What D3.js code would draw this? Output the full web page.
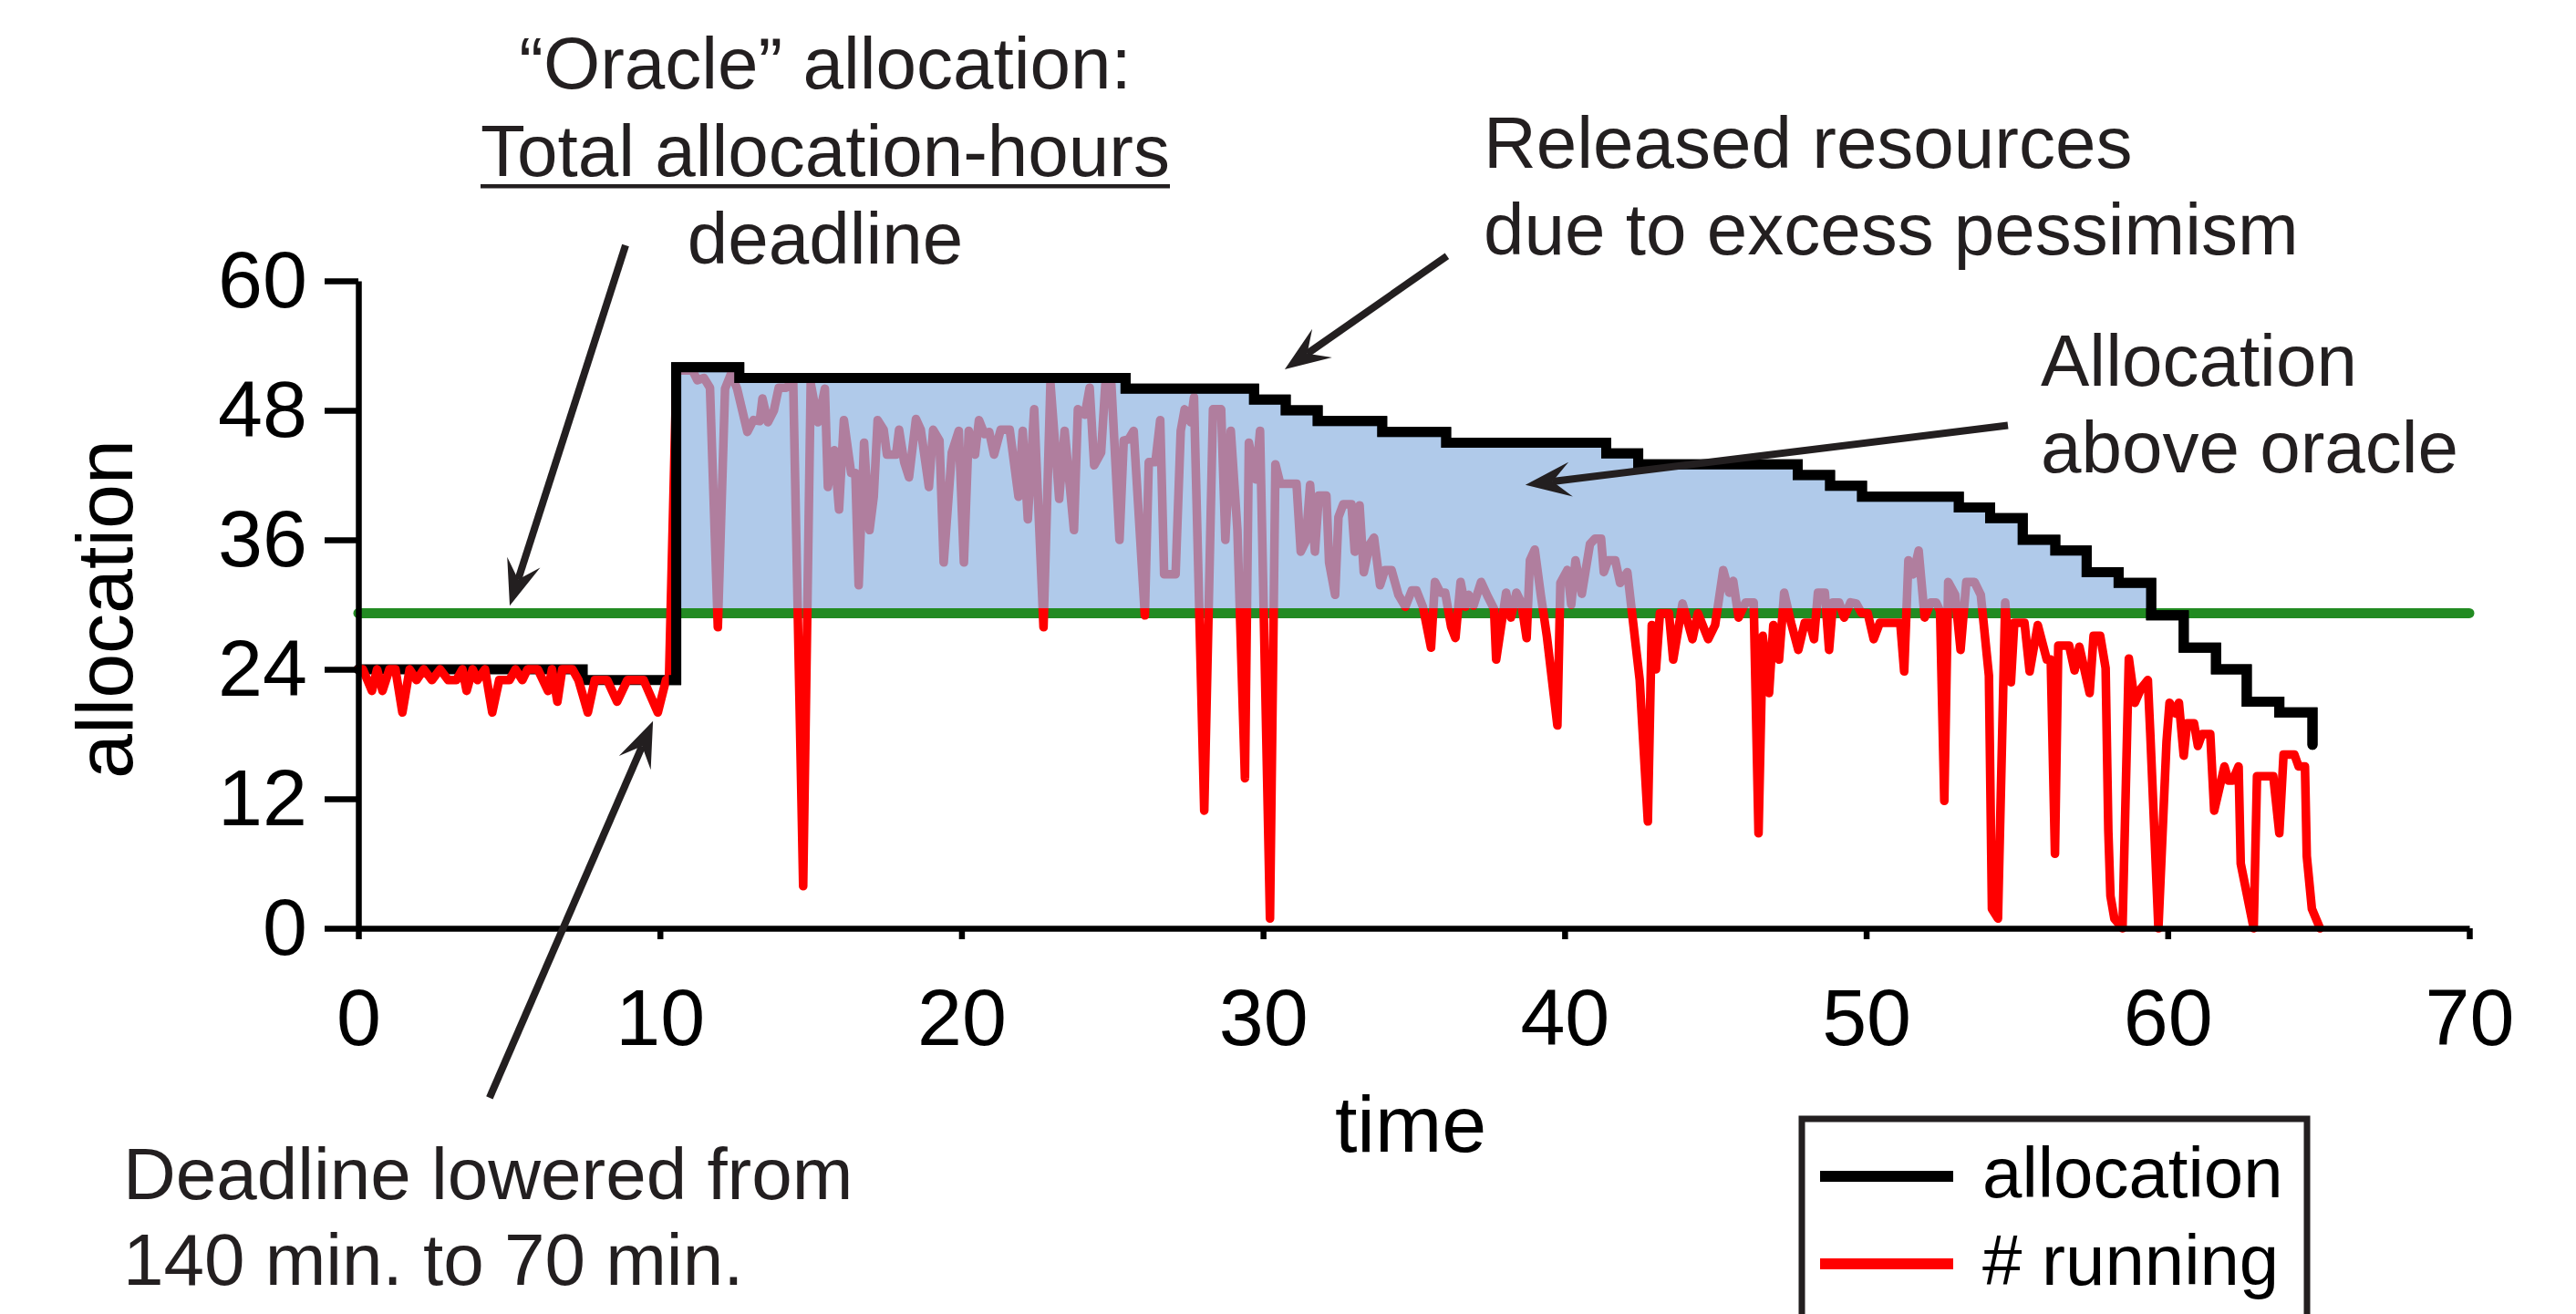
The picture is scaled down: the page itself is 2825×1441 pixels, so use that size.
<!DOCTYPE html>
<html>
<head>
<meta charset="utf-8">
<script src="https://d3js.org/d3.v7.min.js"></script>
<style>
  html, body { margin: 0; padding: 0; background: #fff; }
  svg { display: block; font-family: "Liberation Sans", Arial, Helvetica, sans-serif; }
</style>
</head>
<body>
<svg id="chart" width="2825" height="1441"></svg>
<script>
// allocation (step function)
const allocTime = [0, 7.44, 10.54, 12.63, 25.44, 29.7, 30.75, 31.81, 33.95, 36.07, 41.38, 42.44, 47.73, 48.8, 49.86,
	53.07, 54.11, 55.19, 56.27, 57.31, 58.37, 59.45, 60.53, 61.6, 62.62, 63.7, 64.8];
const allocValue = [24, 23, 52, 51, 50, 49, 48, 47, 46, 45, 44, 43, 42, 41, 40,
	39, 38, 36, 35, 33, 32, 29, 26, 24, 21, 20, 17];

// number of running tasks
const runTime = [
	0, 0.15, 0.45, 0.62, 0.8, 1.03, 1.23, 1.46, 1.7, 1.93, 2.17, 2.44, 2.71, 2.98, 3.25, 3.45, 3.59, 3.79, 3.95, 4.2,
	4.44, 4.67, 5.01, 5.21, 5.44, 5.61, 5.95, 6.29, 6.42, 6.6, 6.76, 7.1, 7.3, 7.61, 7.84, 8.25, 8.58, 8.92, 9.46, 9.93,
	10.2, 10.3, 10.55, 10.81, 11.08, 11.24, 11.46, 11.66, 11.92, 12.16, 12.36, 12.56, 12.9, 13.1, 13.31, 13.4, 13.58, 13.78, 13.94, 14.18,
	14.42, 14.75, 15.0, 15.24, 15.47, 15.57, 15.78, 15.94, 16.1, 16.34, 16.48, 16.59, 16.77, 16.95, 17.09, 17.22, 17.42, 17.53, 17.83, 17.93,
	18.1, 18.26, 18.49, 18.65, 18.92, 19.06, 19.27, 19.41, 19.68, 19.91, 20.08, 20.24, 20.45, 20.58, 20.76, 20.92, 21.08, 21.3, 21.6, 21.89,
	22.03, 22.2, 22.41, 22.72, 22.95, 23.24, 23.42, 23.73, 23.86, 24.09, 24.25, 24.4, 24.63, 24.77, 24.97, 25.24, 25.38, 25.54, 25.71, 26.08,
	26.21, 26.43, 26.59, 26.72, 27.1, 27.27, 27.4, 27.6, 27.71, 28.05, 28.34, 28.61, 28.75, 28.93, 29.15, 29.4, 29.53, 29.76, 29.9, 30.23,
	30.41, 30.57, 31.11, 31.25, 31.42, 31.56, 31.72, 31.85, 32.1, 32.19, 32.39, 32.5, 32.66, 32.93, 33.04, 33.2, 33.34, 33.54, 33.68, 33.88,
	34.04, 34.26, 34.49, 34.72, 34.93, 35.09, 35.3, 35.57, 35.7, 35.88, 36.04, 36.24, 36.38, 36.55, 36.71, 36.82, 36.98, 37.23, 37.46, 37.66,
	37.73, 38.06, 38.22, 38.4, 38.56, 38.74, 38.85, 39.01, 39.21, 39.41, 39.76, 39.86, 40.09, 40.22, 40.36, 40.57, 40.84, 41.0, 41.21, 41.3,
	41.44, 41.68, 41.84, 42.08, 42.29, 42.49, 42.76, 42.89, 43.03, 43.16, 43.46, 43.6, 43.91, 44.24, 44.42, 44.76, 44.99, 45.26, 45.46, 45.59,
	45.77, 46.0, 46.27, 46.43, 46.57, 46.78, 46.92, 47.11, 47.28, 47.51, 47.75, 47.96, 48.13, 48.27, 48.4, 48.63, 48.77, 48.9, 49.1, 49.27,
	49.48, 49.67, 49.85, 50.05, 50.25, 50.45, 51.13, 51.26, 51.4, 51.56, 51.74, 51.94, 52.14, 52.32, 52.45, 52.59, 52.72, 52.95, 53.13, 53.32,
	53.59, 53.8, 54.07, 54.17, 54.37, 54.61, 54.8, 54.91, 55.25, 55.42, 55.69, 55.99, 56.12, 56.26, 56.37, 56.73, 56.91, 57.07, 57.41, 57.54,
	57.76, 57.94, 58.03, 58.1, 58.23, 58.5, 58.71, 58.91, 59.11, 59.34, 59.42, 59.69, 59.96, 60.06, 60.26, 60.37, 60.53, 60.64, 60.87, 61.0,
	61.14, 61.41, 61.54, 61.88, 62.01, 62.15, 62.35, 62.42, 62.85, 62.96, 63.5, 63.7, 63.84, 64.2, 64.34, 64.55, 64.61, 64.78, 65.05
];
const runCount = [
	24, 24, 22, 24, 22, 24, 24, 20, 24, 23, 24, 23, 24, 23, 23, 24, 22, 24, 23, 24,
	20, 23, 23, 24, 23, 24, 24, 22, 24, 21, 24, 24, 23, 20, 23, 23, 21, 23, 23, 20,
	23, 23, 51.7, 51.7, 51.7, 50.8, 51, 50.1, 27.9, 50, 51.4, 50, 46, 47.1, 47, 49.1, 46.9, 48, 50.1, 50.1,
	50.6, 3.9, 50.5, 46.9, 50, 40.9, 44.3, 38.8, 47.1, 42.2, 42.2, 31.8, 45, 36.9, 40, 47.1, 46.2, 43.9, 43.9, 46.2,
	43.2, 41.8, 47.2, 46.2, 40.9, 46.2, 45.2, 33.9, 44.1, 46.1, 33.9, 46.1, 43.9, 47.1, 45.8, 46, 43.9, 46.2, 46.2, 40,
	46.1, 37.9, 48.1, 27.9, 50.5, 39.8, 46.1, 36.9, 48.1, 47.6, 50.1, 42.9, 44.1, 50.4, 50.4, 36, 45.2, 45.3, 46.1, 29,
	43.2, 43.2, 47.1, 32.8, 32.8, 46.1, 48.1, 46.9, 49.2, 10.9, 48.1, 48.1, 36, 46.1, 36.9, 13.9, 45, 41.6, 46.1, 0.9,
	43, 41.2, 41.2, 34.9, 35.9, 41.1, 34.9, 40.1, 40.1, 33.9, 30.9, 38.1, 39.3, 39.3, 34.9, 39.2, 33, 35.6, 36.2, 31.8,
	33.2, 33.2, 30.9, 29.8, 31.3, 31.3, 29.8, 26, 32.1, 31.1, 31.1, 27.9, 26.9, 32.1, 29.8, 30.9, 29.9, 32.1, 30.7, 29.6,
	24.9, 31.1, 28.8, 31.1, 30.2, 26.9, 34.1, 35.1, 30.9, 27.1, 18.8, 32, 33.2, 30, 34.1, 31, 35.6, 36.1, 36.1, 33,
	34.1, 34.1, 32, 33, 27.9, 23, 9.9, 28.1, 24, 29.2, 29.2, 24.9, 30.1, 26.8, 29.2, 26.8, 28.1, 33.2, 31.1, 32.2,
	28.8, 30.2, 30.2, 8.8, 27.1, 21.8, 28.1, 24.9, 31.1, 28.3, 25.8, 28.3, 28.3, 26.8, 31.1, 31.1, 25.8, 30.2, 30.2, 28.8,
	30.2, 30.1, 29.2, 29.2, 26.8, 28.3, 28.3, 23.8, 34.1, 32.8, 35, 28.8, 30.2, 30.2, 29.4, 11.8, 32.1, 30.9, 25.8, 32.1,
	32.1, 30.9, 23.4, 1.8, 0.9, 30.2, 22.8, 28.3, 28.3, 23.8, 28.1, 24.9, 24.9, 6.9, 26.2, 26.2, 23.9, 26.1, 21.8, 27.1,
	27.1, 24.1, 9, 3, 0.9, 0, 25, 20.9, 22.2, 23, 18.1, 0, 17.3, 20.9, 19.9, 20.9, 16, 19, 19, 16.9,
	18, 18, 10.9, 15, 13.7, 13.7, 15, 6, 0, 14.1, 14.1, 8.8, 16.1, 16.1, 15, 15, 6.7, 1.8, 0
];

const oracleLevel = 29.2;
const xTicks = [0, 10, 20, 30, 40, 50, 60, 70];
const yTicks = [0, 12, 24, 36, 48, 60];
const legendLabels = ["allocation", "# running"];
const legendColors = ["#000000", "#ff0000"];

const ink = "#231f20";
const svg = d3.select("#chart");

svg.append("rect")
	.attr("width", 2825)
	.attr("height", 1441)
	.attr("fill", "#fff");

const x = d3.scaleLinear().domain([0, 70]).range([393, 2708]);
const y = d3.scaleLinear().domain([0, 60]).range([1018, 308]);

const allocIdx = d3.range(allocTime.length);
const runIdx = d3.range(runTime.length);
const greenWidth = 11;
const allocWidth = 11;

// oracle line
svg.append("line")
	.attr("x1", x(0))
	.attr("x2", x(70))
	.attr("y1", y(oracleLevel))
	.attr("y2", y(oracleLevel))
	.attr("stroke", "#228b22")
	.attr("stroke-width", greenWidth)
	.attr("stroke-linecap", "round");

const allocLine = d3.line()
	.curve(d3.curveStepAfter)
	.x(i => x(allocTime[i]))
	.y(i => y(allocValue[i]));

const runLine = d3.line()
	.x(i => x(runTime[i]))
	.y(i => y(runCount[i]));

// allocation under the running line (left part)
svg.append("path")
	.attr("d", allocLine(allocIdx))
	.attr("fill", "none")
	.attr("stroke", "#000")
	.attr("stroke-width", allocWidth)
	.attr("stroke-linecap", "round");

svg.append("path")
	.attr("d", runLine(runIdx))
	.attr("fill", "none")
	.attr("stroke", "#ff0000")
	.attr("stroke-width", 9.5)
	.attr("stroke-linejoin", "round")
	.attr("stroke-linecap", "round");

// allocation above oracle
const excessArea = d3.area()
	.curve(d3.curveStepAfter)
	.x(i => x(allocTime[i]))
	.y0(y(oracleLevel) - greenWidth / 2)
	.y1(i => Math.min(y(allocValue[i]), y(oracleLevel) - greenWidth / 2));

svg.append("path")
	.attr("d", excessArea(allocIdx))
	.attr("fill", "#8fb4e1")
	.attr("fill-opacity", 0.7);

// allocation drawn again on top of the fill
svg.append("clipPath")
	.attr("id", "allocClip")
	.append("rect")
	.attr("x", x(allocTime[2]) - 8)
	.attr("y", 0)
	.attr("width", 2825)
	.attr("height", 1441);

svg.append("path")
	.attr("d", allocLine(allocIdx))
	.attr("clip-path", "url(#allocClip)")
	.attr("fill", "none")
	.attr("stroke", "#000")
	.attr("stroke-width", allocWidth)
	.attr("stroke-linecap", "round");

// axes
const yAxis = svg.append("g")
	.attr("transform", `translate(${x(0)},0)`)
	.call(d3.axisLeft(y).tickValues(yTicks).tickSize(37).tickSizeOuter(0).tickPadding(19));

const xAxis = svg.append("g")
	.attr("transform", `translate(0,${y(0)})`)
	.call(d3.axisBottom(x).tickValues(xTicks).tickSize(12).tickSizeOuter(0).tickPadding(54));

[yAxis, xAxis].forEach(ax => {
	ax.attr("font-family", null).attr("font-size", null);
	ax.select(".domain").attr("stroke", "#000").attr("stroke-width", 6.5);
	ax.selectAll(".tick line").attr("stroke", "#000").attr("stroke-width", 6.5);
	ax.selectAll(".tick text").attr("fill", "#000").attr("font-size", "88px");
});

svg.append("text")
	.attr("transform", `translate(145,${(y(0) + y(60)) / 2 + 5}) rotate(-90)`)
	.attr("text-anchor", "middle")
	.attr("font-size", "88px")
	.text("allocation");

svg.append("text")
	.attr("x", 1547)
	.attr("y", 1263)
	.attr("text-anchor", "middle")
	.attr("font-size", "88px")
	.text("time");

// annotations
const note = (lines, px, py, anchor, gap) => {
	const t = svg.append("g").attr("fill", ink).attr("font-size", "80px");
	lines.forEach((s, i) => {
		t.append("text")
			.attr("x", px)
			.attr("y", py + i * gap)
			.attr("text-anchor", anchor)
			.text(s);
	});
	return t;
};

const oracleNote = note(["\u201cOracle\u201d allocation:", "Total allocation-hours", "deadline"], 905, 97, "middle", 96);
const underlined = oracleNote.selectAll("text").filter((d, i) => i === 1);
const uw = underlined.node().getComputedTextLength();
oracleNote.append("rect")
	.attr("x", 905 - uw / 2)
	.attr("y", 202)
	.attr("width", uw)
	.attr("height", 4.5);

note(["Released resources", "due to excess pessimism"], 1627, 184, "start", 95);
note(["Allocation", "above oracle"], 2238, 423, "start", 95);
note(["Deadline lowered from", "140 min. to 70 min."], 135, 1315, "start", 94);

const arrow = (from, to) => {
	const x1 = x(from[0]), y1 = y(from[1]), x2 = x(to[0]), y2 = y(to[1]);
	const angle = Math.atan2(y2 - y1, x2 - x1) * 180 / Math.PI;
	const dist = Math.hypot(x2 - x1, y2 - y1);
	const g = svg.append("g").attr("transform", `translate(${x2},${y2}) rotate(${angle})`);
	g.append("line")
		.attr("x1", -dist).attr("y1", 0)
		.attr("x2", -30).attr("y2", 0)
		.attr("stroke", ink)
		.attr("stroke-width", 8);
	g.append("path")
		.attr("d", "M0,0L-50,-19L-30,0L-50,19Z")
		.attr("fill", ink);
};

arrow([8.86, 63.3], [5.02, 29.9]);
arrow([4.35, -15.7], [9.77, 19.2]);
arrow([36.1, 62.3], [30.72, 51.8]);
arrow([54.7, 46.6], [38.7, 41.1]);

// legend
const legend = svg.append("g").attr("transform", "translate(1976,1227)");
legend.append("rect")
	.attr("width", 554)
	.attr("height", 260)
	.attr("fill", "#fff")
	.attr("stroke", ink)
	.attr("stroke-width", 7);

legendLabels.forEach((label, i) => {
	legend.append("line")
		.attr("x1", 20).attr("x2", 166)
		.attr("y1", 63 + i * 96).attr("y2", 63 + i * 96)
		.attr("stroke", legendColors[i])
		.attr("stroke-width", 12);
	legend.append("text")
		.attr("x", 198)
		.attr("y", 86 + i * 96)
		.attr("font-size", "78px")
		.attr("fill", "#000")
		.text(label);
});
</script>
</body>
</html>
